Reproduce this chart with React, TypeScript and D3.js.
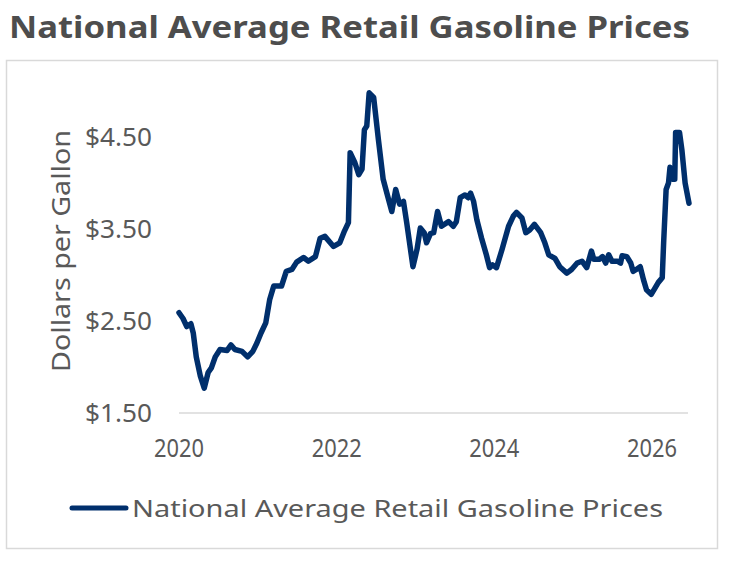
import React from 'react';
import * as d3 from 'd3';

// weekly-ish readings of the national average retail price ($/gal)
const dates = [
  '2020-01-01', '2020-01-19', '2020-02-06', '2020-02-25', '2020-03-07', '2020-03-21', '2020-04-09', '2020-04-27',
  '2020-05-15', '2020-05-30', '2020-06-17', '2020-07-09', '2020-08-11', '2020-08-29', '2020-09-16', '2020-10-19',
  '2020-11-14', '2020-12-08', '2020-12-27', '2021-01-15', '2021-02-06', '2021-02-24', '2021-03-15', '2021-04-20',
  '2021-05-12', '2021-06-07', '2021-06-29', '2021-07-31', '2021-08-22', '2021-09-24', '2021-10-16', '2021-11-07',
  '2021-12-17', '2022-01-15', '2022-02-06', '2022-02-24', '2022-03-04', '2022-03-26', '2022-04-13', '2022-04-28',
  '2022-05-09', '2022-05-20', '2022-05-31', '2022-06-21', '2022-07-13', '2022-08-04', '2022-08-29', '2022-09-13',
  '2022-10-01', '2022-10-19', '2022-11-06', '2022-11-21', '2022-12-20', '2023-01-08', '2023-01-23', '2023-02-10',
  '2023-02-21', '2023-03-11', '2023-03-26', '2023-04-13', '2023-05-01', '2023-06-03', '2023-06-25', '2023-07-09',
  '2023-07-27', '2023-08-18', '2023-09-02', '2023-09-13', '2023-09-27', '2023-10-12', '2023-11-03', '2023-11-25',
  '2023-12-10', '2023-12-24', '2024-01-11', '2024-02-06', '2024-03-07', '2024-03-29', '2024-04-13', '2024-05-08',
  '2024-05-26', '2024-06-13', '2024-07-05', '2024-08-03', '2024-08-22', '2024-09-09', '2024-10-08', '2024-10-30',
  '2024-12-02', '2024-12-24', '2025-01-19', '2025-02-10', '2025-03-04', '2025-03-26', '2025-04-06', '2025-05-01',
  '2025-05-16', '2025-05-31', '2025-06-14', '2025-06-29', '2025-07-24', '2025-08-08', '2025-08-15', '2025-09-06',
  '2025-09-24', '2025-10-05', '2025-10-20', '2025-11-07', '2025-11-22', '2025-12-06', '2025-12-28', '2026-01-15',
  '2026-01-30', '2026-02-17', '2026-02-24', '2026-03-07', '2026-03-18', '2026-03-25', '2026-04-05', '2026-04-16',
  '2026-04-20', '2026-05-08', '2026-05-19', '2026-06-03', '2026-06-21',
];

const prices = [
  2.59, 2.53, 2.44, 2.47, 2.37, 2.11, 1.90, 1.77,
  1.94, 1.99, 2.11, 2.19, 2.18, 2.24, 2.19, 2.17,
  2.11, 2.17, 2.26, 2.37, 2.48, 2.73, 2.88, 2.88,
  3.04, 3.06, 3.14, 3.19, 3.15, 3.20, 3.40, 3.42,
  3.31, 3.35, 3.48, 3.57, 4.33, 4.22, 4.09, 4.15,
  4.58, 4.62, 4.98, 4.93, 4.47, 4.04, 3.82, 3.69,
  3.93, 3.77, 3.80, 3.57, 3.09, 3.28, 3.51, 3.46,
  3.35, 3.45, 3.46, 3.69, 3.53, 3.58, 3.53, 3.58,
  3.84, 3.87, 3.84, 3.89, 3.80, 3.60, 3.40, 3.22,
  3.08, 3.11, 3.08, 3.28, 3.53, 3.64, 3.68, 3.62,
  3.46, 3.49, 3.55, 3.46, 3.35, 3.22, 3.18, 3.09,
  3.02, 3.06, 3.13, 3.15, 3.08, 3.26, 3.17, 3.17,
  3.20, 3.13, 3.22, 3.15, 3.15, 3.13, 3.21, 3.20,
  3.13, 3.04, 3.06, 3.09, 2.95, 2.84, 2.79, 2.86,
  2.92, 2.97, 3.38, 3.93, 4.00, 4.17, 4.04, 4.04,
  4.55, 4.55, 4.36, 4.00, 3.78,
];

const yTicks = [1.5, 2.5, 3.5, 4.5];
const xTickYears = ['2020', '2022', '2024', '2026'];
const seriesName = 'National Average Retail Gasoline Prices';
const chartTitle = 'National Average Retail Gasoline Prices';
const yTitle = 'Dollars per Gallon';

const WIDTH = 733;
const HEIGHT = 563;
const NAVY = '#002f6c';
const LABEL = '#595959';
const FONT = "'Noto Sans', 'DejaVu Sans', sans-serif";

export default function App() {
  const parse = d3.timeParse('%Y-%m-%d');
  const data = dates.map((d, i) => ({ date: parse(d) as Date, value: prices[i] }));

  const plot = { left: 179, right: 689, top: 91, bottom: 413 };

  const x = d3.scaleTime()
    .domain([parse('2020-01-01') as Date, parse('2026-06-21') as Date])
    .range([plot.left, plot.right]);

  const y = d3.scaleLinear()
    .domain([1.5, 5.0])
    .range([plot.bottom, plot.top]);

  const line = d3.line<{ date: Date; value: number }>()
    .x(d => x(d.date))
    .y(d => y(d.value))
    .curve(d3.curveLinear);

  const fmt = d3.format('$.2f');

  return (
    <svg
      width={WIDTH}
      height={HEIGHT}
      style={{ position: 'fixed', left: 0, top: 0, background: '#fff' }}
      fontFamily={FONT}
    >
      <rect x={0} y={0} width={WIDTH} height={HEIGHT} fill="#fff" />

      <text
        x={9}
        y={38}
        fill="#4d4d4d"
        fontSize={30}
        fontWeight="bold"
        textLength={681}
        lengthAdjust="spacingAndGlyphs"
      >
        {chartTitle}
      </text>

      <rect x={6.5} y={60.5} width={711} height={488} fill="#fff" stroke="#d9d9d9" strokeWidth={1.5} />

      {/* y axis labels */}
      {yTicks.map(t => (
        <text
          key={t}
          x={152}
          y={y(t) + 9}
          textAnchor="end"
          fill={LABEL}
          fontSize={26}
          textLength={67}
          lengthAdjust="spacingAndGlyphs"
        >
          {fmt(t)}
        </text>
      ))}

      <text
        transform={`translate(70, ${251}) rotate(-90)`}
        textAnchor="middle"
        fill={LABEL}
        fontSize={25}
        textLength={242}
        lengthAdjust="spacingAndGlyphs"
      >
        {yTitle}
      </text>

      {/* x axis */}
      <line x1={plot.left} x2={plot.right - 1} y1={plot.bottom} y2={plot.bottom} stroke="#d9d9d9" strokeWidth={1.5} />
      {xTickYears.map(yr => (
        <text
          key={yr}
          x={x(parse(`${yr}-01-01`) as Date) - 25}
          y={457}
          fill={LABEL}
          fontSize={26}
          textLength={50}
          lengthAdjust="spacingAndGlyphs"
        >
          {yr}
        </text>
      ))}

      <path
        d={line(data) ?? ''}
        fill="none"
        stroke={NAVY}
        strokeWidth={5.5}
        strokeLinejoin="round"
        strokeLinecap="round"
      />

      {/* legend */}
      <line x1={72} x2={126} y1={508} y2={508} stroke={NAVY} strokeWidth={5} strokeLinecap="round" />
      <text
        x={132}
        y={517}
        fill={LABEL}
        fontSize={24}
        textLength={531}
        lengthAdjust="spacingAndGlyphs"
      >
        {seriesName}
      </text>
    </svg>
  );
}
